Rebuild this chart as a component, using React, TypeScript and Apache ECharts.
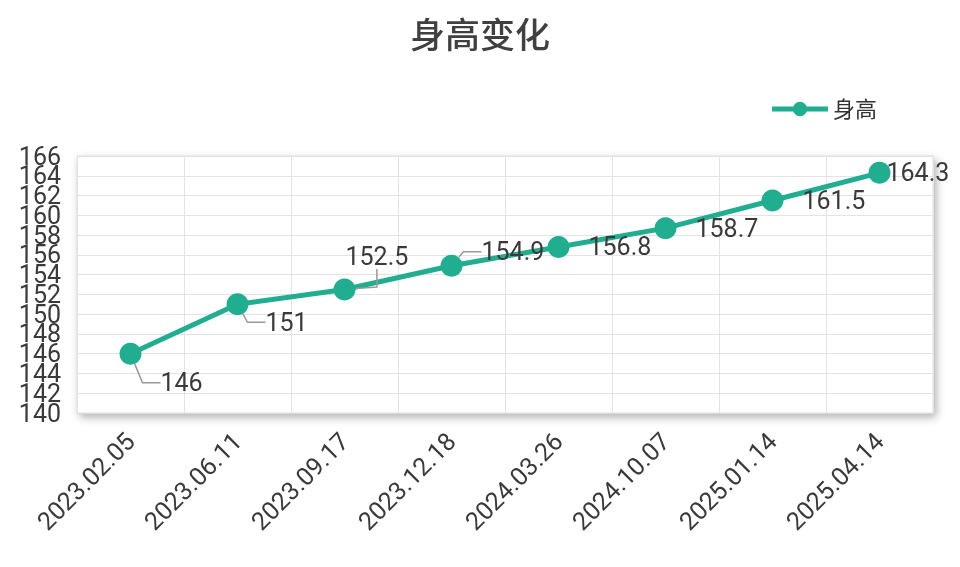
import * as echarts from "echarts";
import { useEffect, useRef } from "react";

const dates = [
	"2023.02.05",
	"2023.06.11",
	"2023.09.17",
	"2023.12.18",
	"2024.03.26",
	"2024.10.07",
	"2025.01.14",
	"2025.04.14",
];
const heights = [146, 151, 152.5, 154.9, 156.8, 158.7, 161.5, 164.3];
const yMin = 140;
const yMax = 166;
const yStep = 2;

// label nudges (dx, dy) so they sit like the original
const labelShift = [
	[0, 29],
	[-2, 18],
	[-29, -33],
	[0, -14],
	[0, 0],
	[0, 0],
	[0, 0],
	[-23, 0],
];

const font = "Roboto, 'Noto Sans CJK SC', sans-serif";
const green = "#21ad90";

export default function App() {
	const ref = useRef<HTMLDivElement>(null);
	useEffect(() => {
		if (!ref.current) return;
		const chart = echarts.init(ref.current, undefined, { renderer: "svg" });
		const yLabel = { fontSize: 25, color: "#3a3a3a", margin: 16 };
		chart.setOption({
			animation: false,
			textStyle: { fontFamily: font },
			title: {
				text: "身高变化",
				left: "center",
				top: 14,
				textStyle: { fontSize: 35, fontWeight: 500, color: "#404040", fontFamily: font },
			},
			legend: {
				data: ["身高"],
				top: 93,
				right: 78,
				itemWidth: 56,
				itemHeight: 18,
				itemGap: 8,
				lineStyle: { width: 5 },
				textStyle: { fontSize: 22, color: "#333" },
			},
			grid: {
				left: 77,
				right: 27,
				top: 156,
				bottom: 154,
				show: true,
				backgroundColor: "#fff",
				borderColor: "#ddd",
				shadowColor: "rgba(0,0,0,0.3)",
				shadowBlur: 8,
				shadowOffsetX: 3,
				shadowOffsetY: 4,
			},
			xAxis: {
				type: "category",
				data: dates,
				boundaryGap: true,
				axisLine: { lineStyle: { color: "#ddd" } },
				axisTick: { length: 10, lineStyle: { color: "#ddd" } },
				splitLine: { show: true, lineStyle: { color: "#e3e3e3" } },
				axisLabel: { rotate: 45, fontSize: 25, color: "#3a3a3a", margin: 24 },
			},
			// the labels are packed tighter than ECharts allows, so the end labels
			// live on one axis and the inner ones on a twin axis
			yAxis: [
				{
					type: "value",
					min: yMin,
					max: yMax,
					interval: yStep,
					axisLine: { show: false },
					axisTick: { show: false },
					splitLine: { lineStyle: { color: "#e3e3e3" } },
					axisLabel: {
						...yLabel,
						showMinLabel: true,
						showMaxLabel: true,
						formatter: (v: number) => (v === yMin || v === yMax ? String(v) : ""),
					},
				},
				{
					type: "value",
					position: "left",
					min: yMin,
					max: yMax,
					interval: yStep,
					axisLine: { show: false },
					axisTick: { show: false },
					splitLine: { show: false },
					axisLabel: { ...yLabel, showMinLabel: false, showMaxLabel: false },
				},
			],
			series: [
				{
					name: "身高",
					type: "line",
					yAxisIndex: 0,
					data: heights.map((v, i) => ({
						value: v,
						labelLine: { show: labelShift[i][1] !== 0 },
					})),
					symbol: "circle",
					symbolSize: 22,
					lineStyle: { width: 5, color: green },
					itemStyle: { color: green },
					label: {
						show: true,
						position: "right",
						distance: 19,
						fontSize: 25,
						color: "#3a3a3a",
					},
					labelLine: { length2: 18, lineStyle: { color: "#999", width: 1.5 } },
					labelLayout: (p: any) => ({
						dx: labelShift[p.dataIndex][0],
						dy: labelShift[p.dataIndex][1],
					}),
				},
			],
		});
		return () => chart.dispose();
	}, []);
	return (
		<div
			ref={ref}
			style={{ position: "fixed", left: 0, top: 0, width: 960, height: 567 }}
		/>
	);
}
